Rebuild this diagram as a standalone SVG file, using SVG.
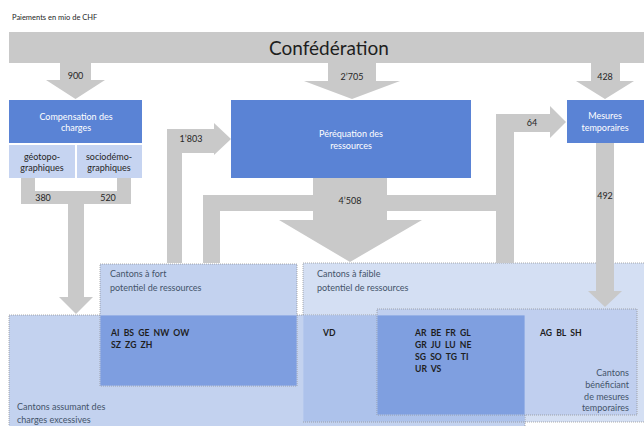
<svg xmlns="http://www.w3.org/2000/svg" width="644" height="426" viewBox="0 0 644 426">
<style>
text{font-family:Lato,"Liberation Sans",sans-serif}
.flow{fill:#c9c9c9}
.lbl{font-size:9px;fill:#262626;text-anchor:middle}
.blue{fill:#5a83d5}
.wt{font-size:9px;fill:#ffffff;text-anchor:middle}
.sub{fill:#c6d4f1}
.st{font-size:9px;fill:#262626;text-anchor:middle}
.box{stroke:#8a8a8a;stroke-width:0.7;stroke-dasharray:1 1}
.ttl{font-size:9px;fill:#44546a}
.cod{font-size:8.6px;fill:#1e1e1e;font-weight:bold}
</style>
<rect width="644" height="426" fill="#ffffff"/>
<text x="12" y="20" style="font-size:7.5px;fill:#262626">Paiements en mio de CHF</text>

<g id="cantons-faible">
<rect class="box" x="303" y="263" width="345" height="159" fill="#d4dff3"/>
</g>
<g id="cantons-charges">
<rect class="box" x="9" y="315" width="516" height="115" fill="#c3d2ef"/>
<rect x="303.4" y="315.4" width="221.2" height="106.2" fill="#adc2eb"/>
<line class="box" x1="303" y1="422" x2="525" y2="422"/>
</g>
<g id="cantons-fort">
<rect class="box" x="100" y="264" width="197" height="122" fill="#c3d2ef"/>
<rect x="100.4" y="315.4" width="196.2" height="70.2" fill="#7e9ee0"/>
</g>
<g id="cantons-temporaires">
<rect class="box" x="377" y="309" width="260" height="106" fill="#c0cfef"/>
<rect x="377.4" y="315.4" width="147.2" height="99.2" fill="#7f9fe0"/>
</g>

<g id="connectors">
<polygon class="flow" points="60,63 91,63 91,80 105,80 75.5,99 46,80 60,80"/>
<polygon class="flow" points="328,63 376,63 376,81 400,81 352,99 304,81 328,81"/>
<polygon class="flow" points="591,63 620,63 620,81 634,81 605,99 576,81 591,81"/>
<polygon class="flow" points="21,178 35,178 35,191 117,191 117,178 131,178 131,204 84,204 84,297 93,297 76,314 59,297 68,297 68,204 21,204"/>
<polygon class="flow" points="167,263 167,129 214,129 214,123 231,139 214,155 214,153 182,153 182,263"/>
<polygon class="flow" points="313,178 387,178 387,195 496,195 496,114 550,114 550,106 566,122 550,138 550,132 514,132 514,263 496,263 496,211 387,211 387,220 422,220 350,262 279,220 313,220 313,211 220,211 220,263 203,263 203,195 313,195"/>
<polygon class="flow" points="596,143 614,143 614,291 622,291 605,307 588,291 596,291"/>
<text class="lbl" x="75.5" y="79">900</text>
<text class="lbl" x="352" y="80">2’705</text>
<text class="lbl" x="605" y="80">428</text>
<text class="lbl" x="43" y="201">380</text>
<text class="lbl" x="108" y="201">520</text>
<text class="lbl" x="191" y="142">1’803</text>
<text class="lbl" x="350" y="204">4’508</text>
<text class="lbl" x="532" y="126">64</text>
<text class="lbl" x="605" y="199">492</text>
</g>

<g id="confederation">
<rect x="9" y="32" width="640" height="31" fill="#c9c9c9"/>
<text x="329" y="55" style="font-size:19px;fill:#1e1e1e;text-anchor:middle">Confédération</text>
</g>
<g id="compensation-charges">
<rect class="blue" x="9" y="100" width="133" height="43"/>
<text class="wt" x="76" y="120">Compensation des</text>
<text class="wt" x="76" y="131">charges</text>
</g>
<g id="geotopographiques">
<rect class="sub" x="9" y="145" width="66" height="33"/>
<text class="st" x="42" y="160">géotopo-</text>
<text class="st" x="42" y="171">graphiques</text>
</g>
<g id="sociodemographiques">
<rect class="sub" x="77" y="145" width="65" height="33"/>
<text class="st" x="109" y="160">sociodémo-</text>
<text class="st" x="109" y="171">graphiques</text>
</g>
<g id="perequation-ressources">
<rect class="blue" x="231" y="100" width="240" height="78"/>
<text class="wt" x="351" y="137">Péréquation des</text>
<text class="wt" x="351" y="149">ressources</text>
</g>
<g id="mesures-temporaires">
<rect class="blue" x="567" y="100" width="80" height="43"/>
<text class="wt" x="605" y="119">Mesures</text>
<text class="wt" x="605" y="131">temporaires</text>
</g>

<g id="labels-cantons">
<text class="ttl" x="110" y="277">Cantons à fort</text>
<text class="ttl" x="110" y="291">potentiel de ressources</text>
<text class="cod" x="111" y="336" xml:space="preserve">AI  BS  GE  NW  OW</text>
<text class="cod" x="111" y="348" xml:space="preserve">SZ  ZG  ZH</text>
<text class="ttl" x="17" y="410">Cantons assumant des</text>
<text class="ttl" x="17" y="423">charges excessives</text>
<text class="ttl" x="317" y="277">Cantons à faible</text>
<text class="ttl" x="317" y="291">potentiel de ressources</text>
<text class="cod" x="323" y="336">VD</text>
<text class="cod" x="415" y="336" xml:space="preserve">AR  BE  FR  GL</text>
<text class="cod" x="415" y="348" xml:space="preserve">GR  JU  LU  NE</text>
<text class="cod" x="415" y="360" xml:space="preserve">SG  SO  TG  TI</text>
<text class="cod" x="415" y="372" xml:space="preserve">UR  VS</text>
<text class="cod" x="540" y="336" xml:space="preserve">AG  BL  SH</text>
<text class="ttl" x="629" y="376" text-anchor="end">Cantons</text>
<text class="ttl" x="629" y="388" text-anchor="end">bénéficiant</text>
<text class="ttl" x="629" y="400" text-anchor="end">de mesures</text>
<text class="ttl" x="629" y="411" text-anchor="end">temporaires</text>
</g>
</svg>
